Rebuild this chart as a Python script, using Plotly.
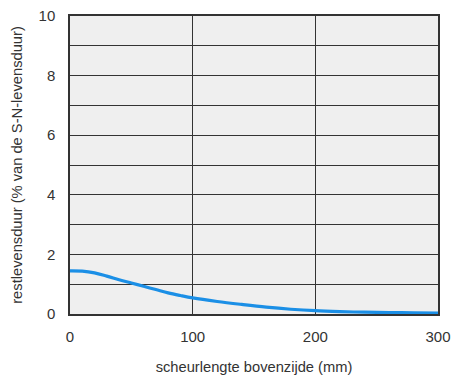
import plotly.graph_objects as go

crack_mm = [0, 10, 20, 30, 40, 50, 60, 70, 80, 90, 100, 120, 140, 160, 180, 200, 220, 240, 260, 280, 300]
rest_life = [1.45, 1.44, 1.38, 1.27, 1.15, 1.04, 0.93, 0.82, 0.71, 0.62, 0.54, 0.42, 0.32, 0.23, 0.16, 0.11, 0.08, 0.06, 0.05, 0.04, 0.03]
x_ticks = [0, 100, 200, 300]
y_ticks = [0, 2, 4, 6, 8, 10]

fig = go.Figure()
fig.add_trace(go.Scatter(x=crack_mm, y=rest_life, mode="lines",
                         line=dict(color="#1b8fe6", width=3.2, shape="spline", smoothing=1.0),
                         showlegend=False, hoverinfo="skip"))

fig.update_layout(
    width=453, height=375,
    margin=dict(l=70, r=15, t=16, b=61),
    paper_bgcolor="white", plot_bgcolor="#efefef",
    font=dict(family="Liberation Sans, Arial, sans-serif", color="#333333", size=15),
    xaxis=dict(range=[0, 300], tickvals=x_ticks, ticks="", showgrid=True,
               gridcolor="#333333", gridwidth=1.4, zeroline=False, automargin=False,
               showline=True, linecolor="#333333", linewidth=1.5, mirror=True,
               tickfont=dict(size=15), ticklabelstandoff=8,
               title=dict(text="scheurlengte bovenzijde (mm)", font=dict(size=14.7), standoff=18)),
    yaxis=dict(range=[0, 10], tickvals=y_ticks, ticks="", automargin=False,
               showgrid=True, gridcolor="#333333", gridwidth=1.4, zeroline=False,
               showline=True, linecolor="#333333", linewidth=1.5, mirror=True,
               tickfont=dict(size=15), ticklabelstandoff=10,
               minor=dict(dtick=1, showgrid=True, gridcolor="#333333", gridwidth=1.4),
               title=dict(text="restlevensduur (% van de S-N-levensduur)", font=dict(size=14.7), standoff=12)),
)

fig.write_html("out.html")
